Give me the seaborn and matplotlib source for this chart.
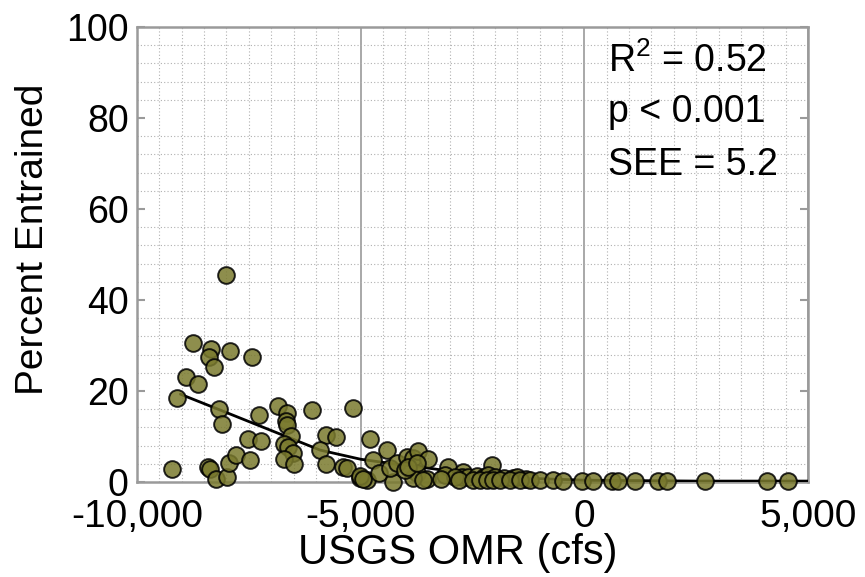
import matplotlib
matplotlib.use("Agg")
import matplotlib.pyplot as plt
from matplotlib.ticker import MultipleLocator, FuncFormatter
import seaborn as sns
import pandas as pd

# ---- data ----
omr_x = [-8004, -8748, -8346, -8397, -8271, -7913, -7422, -8897, -8629, -9106,
         -8167, -8092, -9225, -8413, -8375, -8226, -7988, -7943, -7794, -7467,
         -7511, -7228, -7273, -6855, -6647, -6677, -6650, -6557, -6721, -6618,
         -6513, -6721, -6483, -6095, -5171, -5782, -5544, -5916, -5768, -5395,
         -5306, -5022, -4858, -4800, -4419, -4717, -5015, -4955, -4583, -4270,
         -4344, -4195, -3972, -3823, -3711, -3487, -3748, -3525, -3823, -4009,
         -3935, -3040, -3115, -2706, -2743, -2071, -3748, -3600,
         -2600, -2400, -2250, -2150, -2000, -1800, -1600, -1500, -1300, -2900,
         -3200, -2800,
         -2482, -2332, -2183, -2035, -1885, -1662, -1438, -1214, -991, -693,
         -470, -59, 200, 612, 760, 1133, 1654, 1842, 2698, 4077, 4560]
pct_y = [45.5, 30.6, 29.3, 27.5, 25.2, 28.9, 27.5, 23.0, 21.5, 18.4,
         16.0, 12.7, 2.9, 3.2, 2.8, 0.6, 1.2, 4.1, 5.9, 4.8,
         9.5, 9.1, 14.8, 16.6, 15.1, 13.3, 12.5, 10.1, 8.3, 7.8,
         6.3, 5.0, 3.9, 15.9, 16.3, 10.3, 9.8, 7.0, 4.0, 3.2,
         3.0, 0.8, 0.4, 9.4, 7.0, 4.8, 1.3, 0.7, 1.9, 0.1,
         3.0, 4.1, 5.6, 5.2, 6.9, 5.0, 1.9, 0.6, 0.8, 2.6,
         3.4, 3.2, 1.5, 2.3, 1.2, 3.7, 4.1, 0.4,
         1.0, 1.3, 1.0, 1.5, 1.1, 0.9, 0.8, 1.0, 0.6, 1.0,
         0.6, 0.5,
         0.4, 0.4, 0.4, 0.4, 0.4, 0.4, 0.4, 0.4, 0.4, 0.4,
         0.3, 0.2, 0.2, 0.2, 0.2, 0.2, 0.2, 0.2, 0.2, 0.2, 0.2]

fit_x = [-9030, -8137, -7020, -5902, -5000, -4200, -3450, -2332, -1214, 0, 2500, 5000]
fit_y = [19.3, 15.8, 11.4, 7.0, 5.0, 3.9, 3.0, 1.5, 0.8, 0.4, 0.2, 0.2]

x_ticks = [-10000, -5000, 0, 5000]
y_ticks = [0, 20, 40, 60, 80, 100]
stats_lines = ["R$^{2}$ = 0.52", "p < 0.001", "SEE = 5.2"]

scatter_df = pd.DataFrame({"OMR": omr_x, "Pct": pct_y})
fit_df = pd.DataFrame({"OMR": fit_x, "Pct": fit_y})

# ---- style ----
sns.set_style("white")
plt.rcParams["font.family"] = ["Liberation Sans", "DejaVu Sans"]
plt.rcParams["mathtext.fontset"] = "custom"
plt.rcParams["mathtext.rm"] = "Liberation Sans"
plt.rcParams["mathtext.it"] = "Liberation Sans"
plt.rcParams["text.color"] = "black"
plt.rcParams["axes.labelcolor"] = "black"
plt.rcParams["xtick.color"] = "black"
plt.rcParams["ytick.color"] = "black"

fig = plt.figure(figsize=(8.65, 5.77), dpi=100)
ax = fig.add_axes([137 / 865, 1 - 482 / 577, 671 / 865, 455 / 577])

grid_gray = "#b0b0b0"
spine_gray = "#9a9a9a"

# grid: dotted minor lines, solid vertical majors
ax.set_xlim(-10000, 5000)
ax.set_ylim(0, 100)
ax.xaxis.set_minor_locator(MultipleLocator(500))
ax.yaxis.set_minor_locator(MultipleLocator(4))
ax.grid(which="minor", axis="both", linestyle=(0, (1, 2)), color=grid_gray, linewidth=0.8)
ax.grid(which="major", axis="x", linestyle="-", color=spine_gray, linewidth=1.2)
ax.set_axisbelow(True)

sns.lineplot(data=fit_df, x="OMR", y="Pct", ax=ax, color="black", linewidth=2.0,
             zorder=3, sort=True)
sns.scatterplot(data=scatter_df, x="OMR", y="Pct", ax=ax, s=145, color="#7a7a2e",
                alpha=0.85, edgecolor="black", linewidth=1.4, zorder=4, clip_on=False)

ax.set_xticks(x_ticks)
ax.set_yticks(y_ticks)
ax.xaxis.set_major_formatter(FuncFormatter(lambda v, p: f"{int(v):,}"))
ax.tick_params(axis="x", which="major", labelsize=28, pad=12, direction="in",
               length=0, top=False, labelcolor="black")
ax.tick_params(axis="y", which="major", labelsize=27, pad=6, direction="in",
               length=6, width=1.5, color=spine_gray, left=True, right=True,
               labelcolor="black")
ax.tick_params(which="minor", length=0)

for s in ax.spines.values():
    s.set_visible(True)
    s.set_color(spine_gray)
    s.set_linewidth(1.8)

ax.set_xlabel("USGS OMR (cfs)", fontsize=30, color="black")
ax.set_ylabel("Percent Entrained", fontsize=28, color="black")
ax.xaxis.set_label_coords(0.4777, -0.112)
ax.yaxis.set_label_coords(-0.128, 0.534)

for line, yb in zip(stats_lines, [0.902, 0.792, 0.675]):
    ax.text(0.702, yb, line, transform=ax.transAxes, fontsize=27,
            ha="left", va="baseline", color="black", zorder=5)

fig.savefig("out.png", dpi=100)
